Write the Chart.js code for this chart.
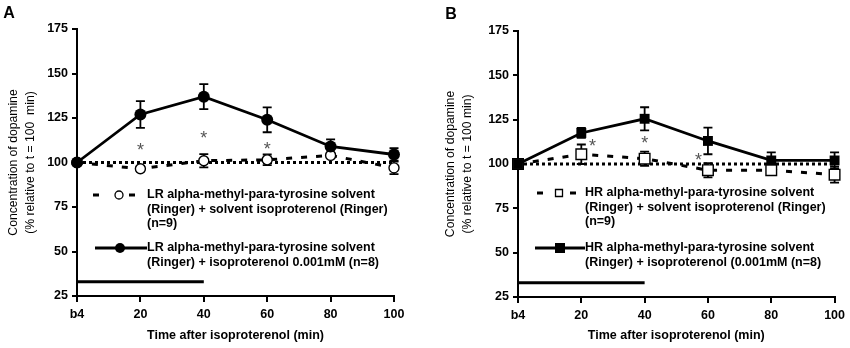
<!DOCTYPE html>
<html>
<head>
<meta charset="utf-8">
<script src="https://cdn.jsdelivr.net/npm/chart.js@4.4.0/dist/chart.umd.min.js"></script>
<style>
  body { margin: 0; background: #fff; }
  .panel { position: absolute; top: 0; width: 425px; height: 348px; }
</style>
</head>
<body>
<div class="panel" style="left:0"><canvas id="chartA" width="425" height="348"></canvas></div>
<div class="panel" style="left:425px"><canvas id="chartB" width="425" height="348"></canvas></div>
<script>
const timePoints = [0, 20, 40, 60, 80, 100];
const tickLabels = ["b4", "20", "40", "60", "80", "100"];

// panel A (LR)
const lrIso = [100, 127, 137, 124, 109, 104.5];
const lrIsoErr = [0, 7.5, 7, 7, 4, 3.5];
const lrSolvent = [100, 96.5, 101, 101.5, 104, 97];
const lrSolventErr = [0, 1.5, 3.7, 3, 1.5, 3.5];
const lrStarX = [20, 40, 60];
const lrStarY = [109, 115.5, 109.5];

// panel B (HR)
const hrIso = [100, 117.5, 125.5, 113, 102, 102];
const hrIsoErr = [0, 2.8, 6.5, 7.5, 4.5, 4.5];
const hrSolvent = [100, 105.5, 103, 96.5, 96.5, 94];
const hrSolventErr = [0, 5.5, 4, 4, 2, 4.5];
const hrStarX = [23.5, 40, 57];
const hrStarY = [112, 114, 104.5];

const barX = [0, 40];
const barLevel = 33;
const baseline = 100;

const FONT = "'Liberation Sans', Arial, sans-serif";

function pts(xs, ys) {
  return xs.map((x, i) => ({ x: x, y: ys[i] }));
}

// error bars, asterisks, legend and panel letter
const extras = {
  id: "extras",
  beforeDatasetsDraw(chart) {
    const { ctx, scales: { x, y } } = chart;
    ctx.save();
    ctx.strokeStyle = "#000";
    ctx.lineWidth = 1.8;
    chart.data.datasets.forEach(ds => {
      if (!ds.errors) return;
      ds.data.forEach((p, i) => {
        const e = ds.errors[i];
        if (!e) return;
        const px = x.getPixelForValue(p.x);
        const top = y.getPixelForValue(p.y + e);
        const bot = y.getPixelForValue(p.y - e);
        ctx.beginPath();
        ctx.moveTo(px, top); ctx.lineTo(px, bot);
        ctx.moveTo(px - 4.5, top); ctx.lineTo(px + 4.5, top);
        ctx.moveTo(px - 4.5, bot); ctx.lineTo(px + 4.5, bot);
        ctx.stroke();
      });
    });
    ctx.restore();
  },
  afterDraw(chart, args, o) {
    const { ctx, scales: { x, y } } = chart;
    ctx.save();

    // asterisks
    ctx.fillStyle = "#555";
    ctx.font = "18px " + FONT;
    ctx.textAlign = "center";
    ctx.textBaseline = "alphabetic";
    const m = ctx.measureText("*");
    const shift = (m.actualBoundingBoxAscent - m.actualBoundingBoxDescent) / 2;
    o.starX.forEach((sx, i) => {
      ctx.fillText("*", x.getPixelForValue(sx), y.getPixelForValue(o.starY[i]) + shift);
    });

    // panel letter
    ctx.fillStyle = "#000";
    ctx.font = "bold 16px " + FONT;
    ctx.textBaseline = "middle";
    ctx.fillText(o.letter, o.letterX, o.letterY);

    // legend
    const L = o.legend;
    ctx.font = "bold 12.5px " + FONT;
    ctx.textAlign = "left";
    ctx.strokeStyle = "#000";
    ctx.lineWidth = 3;
    // entry 1: dashed with open marker
    ctx.beginPath();
    ctx.moveTo(L.dash1[0], L.y1); ctx.lineTo(L.dash1[1], L.y1);
    ctx.moveTo(L.dash2[0], L.y1); ctx.lineTo(L.dash2[1], L.y1);
    ctx.stroke();
    ctx.lineWidth = 1.3;
    ctx.fillStyle = "#fff";
    ctx.beginPath();
    if (o.square) ctx.rect(L.mark1 - 3.5, L.y1 - 3.5, 7, 7);
    else ctx.arc(L.mark1, L.y1, 4, 0, Math.PI * 2);
    ctx.fill(); ctx.stroke();
    // entry 2: solid with filled marker
    ctx.lineWidth = 3;
    ctx.beginPath();
    ctx.moveTo(L.line2[0], L.y2); ctx.lineTo(L.line2[1], L.y2);
    ctx.stroke();
    ctx.fillStyle = "#000";
    ctx.beginPath();
    if (o.square) ctx.rect(L.mark2 - 5, L.y2 - 5, 10, 10);
    else ctx.arc(L.mark2, L.y2, 5, 0, Math.PI * 2);
    ctx.fill();
    o.text1.forEach((t, i) => ctx.fillText(t, L.textX, L.y1 + i * 14.5));
    o.text2.forEach((t, i) => ctx.fillText(t, L.textX, L.y2 + i * 14.5));
    ctx.restore();
  }
};

function makeChart(id, c) {
  const datasets = [
    {
      data: pts(timePoints, c.iso),
      errors: c.isoErr,
      borderColor: "#000",
      borderWidth: 2.8,
      pointStyle: c.square ? "rect" : "circle",
      pointRadius: c.square ? 7 : 6,
      pointBackgroundColor: "#000",
      pointBorderColor: "#000",
      pointBorderWidth: 0,
      clip: false,
      order: 0
    },
    {
      data: pts(timePoints, c.solvent),
      errors: c.solventErr,
      borderColor: "#000",
      borderWidth: 3,
      borderDash: [6, 9],
      pointStyle: c.square ? "rect" : "circle",
      pointRadius: c.square ? 7.5 : 5,
      pointBackgroundColor: "#fff",
      pointBorderColor: "#000",
      pointBorderWidth: 1.4,
      clip: false,
      order: 1
    },
    {
      data: pts([timePoints[0], timePoints[timePoints.length - 1]], [baseline, baseline]),
      borderColor: "#000",
      borderWidth: 3,
      borderDash: [3, 3],
      pointRadius: 0,
      clip: false,
      order: 2
    },
    {
      data: pts(barX, [barLevel, barLevel]),
      borderColor: "#000",
      borderWidth: 3,
      pointRadius: 0,
      clip: false,
      order: 3
    }
  ];

  return new Chart(document.getElementById(id), {
    type: "line",
    data: { datasets },
    options: {
      responsive: false,
      animation: false,
      layout: { padding: { left: 0, top: c.top, right: c.right, bottom: 0 } },
      plugins: {
        legend: { display: false },
        tooltip: { enabled: false },
        extras: c.extras
      },
      scales: {
        x: {
          type: "linear",
          min: 0,
          max: 100,
          afterFit: s => { s.height = 348 - c.bottom; },
          afterBuildTicks: s => { s.ticks = timePoints.map(v => ({ value: v })); },
          ticks: {
            callback: (v) => tickLabels[timePoints.indexOf(v)],
            color: "#000",
            font: { family: FONT, size: 12.5, weight: "bold" },
            padding: 5,
            maxRotation: 0
          },
          grid: { drawOnChartArea: false, color: "#000", lineWidth: 2, tickLength: 6 },
          border: { color: "#000", width: 2 },
          title: {
            display: true,
            text: "Time after isoproterenol (min)",
            color: "#000",
            font: { family: FONT, size: 12.5, weight: "bold" },
            padding: { top: 0, bottom: 4.5 }
          }
        },
        y: {
          min: 25,
          max: 175,
          afterFit: s => { s.width = c.yWidth; },
          ticks: {
            stepSize: 25,
            color: "#000",
            font: { family: FONT, size: 12.5, weight: "bold" },
            padding: 4
          },
          grid: { drawOnChartArea: false, color: "#000", lineWidth: 2, tickLength: 5 },
          border: { color: "#000", width: 2 },
          title: {
            display: true,
            text: c.yTitle,
            color: "#000",
            font: { family: FONT, size: 12.2, lineHeight: 1.4 },
            padding: { top: c.yTitlePad, bottom: 0 }
          }
        }
      }
    },
    plugins: [extras]
  });
}

makeChart("chartA", {
  iso: lrIso, isoErr: lrIsoErr, solvent: lrSolvent, solventErr: lrSolventErr,
  square: false,
  top: 29, right: 31, bottom: 296, yWidth: 77, yTitlePad: 4.6,
  yTitle: ["Concentration of dopamine", "(% relative to t = 100  min)"],
  extras: {
    letter: "A", letterX: 9, letterY: 14, square: false,
    starX: lrStarX, starY: lrStarY,
    legend: { dash1: [93, 99], dash2: [129, 135], mark1: 119, y1: 195,
              line2: [95, 147], mark2: 120, y2: 248, textX: 147 },
    text1: ["LR alpha-methyl-para-tyrosine solvent", "(Ringer) + solvent isoproterenol (Ringer)", "(n=9)"],
    text2: ["LR alpha-methyl-para-tyrosine solvent", "(Ringer) + isoproterenol 0.001mM (n=8)"]
  }
});

makeChart("chartB", {
  iso: hrIso, isoErr: hrIsoErr, solvent: hrSolvent, solventErr: hrSolventErr,
  square: true,
  top: 31, right: 13, bottom: 297, yWidth: 93, yTitlePad: 16.6,
  yTitle: ["Concentration of dopamine", "(% relative to t = 100 min)"],
  extras: {
    letter: "B", letterX: 26, letterY: 15, square: true,
    starX: hrStarX, starY: hrStarY,
    legend: { dash1: [112, 118], dash2: [145, 151], mark1: 134, y1: 193,
              line2: [110, 160], mark2: 135, y2: 248, textX: 160 },
    text1: ["HR alpha-methyl-para-tyrosine solvent", "(Ringer) + solvent isoproterenol (Ringer)", "(n=9)"],
    text2: ["HR alpha-methyl-para-tyrosine solvent", "(Ringer) + isoproterenol (0.001mM (n=8)"]
  }
});
</script>
</body>
</html>
